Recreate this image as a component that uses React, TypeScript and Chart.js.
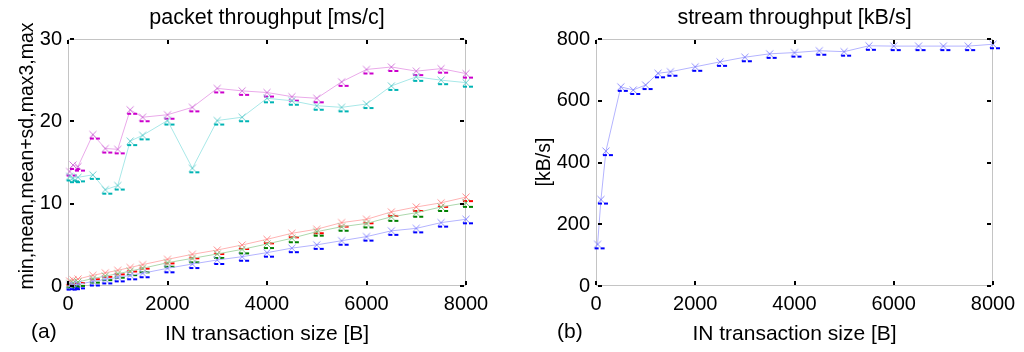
import React, { useEffect, useRef } from "react";
import { Chart, registerables } from "chart.js";

Chart.register(...registerables);

// ---------- data ----------
const X_VALUES = [32, 100, 200, 500, 750, 1000, 1250, 1500, 2000, 2500, 3000, 3500, 4000, 4500, 5000, 5500, 6000, 6500, 7000, 7500, 8000];
const PACKET_MAX = [13.9, 14.7, 14.5, 18.4, 16.7, 16.6, 21.4, 20.5, 20.8, 21.7, 24.0, 23.7, 23.5, 23.0, 22.8, 24.8, 26.3, 26.6, 26.1, 26.4, 25.8];
const PACKET_MAX3 = [13.3, 13.1, 13.2, 13.5, 11.7, 12.2, 17.6, 18.3, 20.1, 14.3, 20.1, 20.5, 22.8, 22.5, 21.9, 21.7, 22.1, 24.3, 25.4, 25.0, 24.7];
const PACKET_MEAN_SD = [0.6, 0.75, 0.85, 1.3, 1.6, 1.9, 2.25, 2.6, 3.24, 3.85, 4.37, 4.98, 5.67, 6.4, 6.9, 7.7, 8.1, 9.0, 9.6, 10.1, 10.8];
const PACKET_MEAN = [0.3, 0.4, 0.5, 0.9, 1.2, 1.5, 1.8, 2.15, 2.83, 3.36, 3.89, 4.45, 5.1, 5.8, 6.6, 7.2, 7.6, 8.4, 8.9, 9.6, 10.1];
const PACKET_MIN = [0.05, 0.1, 0.2, 0.55, 0.8, 1.05, 1.3, 1.55, 2.15, 2.67, 3.16, 3.56, 4.05, 4.6, 5.0, 5.5, 6.0, 6.7, 7.0, 7.7, 8.1];
const STREAM = [135, 280, 437, 645, 635, 651, 689, 694, 710, 726, 741, 752, 756, 762, 759, 778, 777, 777, 777, 777, 783];

const X_TICKS = [0, 2000, 4000, 6000, 8000];
const PACKET_Y_TICKS = [0, 10, 20, 30];
const STREAM_Y_TICKS = [0, 200, 400, 600, 800];

const FONT = "'Liberation Sans', Arial, sans-serif";

function makeMarker(xColor: string, dashColor: string): HTMLCanvasElement {
  const c = document.createElement("canvas");
  c.width = 20;
  c.height = 20;
  const g = c.getContext("2d")!;
  g.strokeStyle = xColor;
  g.lineWidth = 1;
  g.beginPath();
  g.moveTo(10 - 3.5, 10 - 3.5);
  g.lineTo(10 + 3.5, 10 + 3.5);
  g.moveTo(10 + 3.5, 10 - 3.5);
  g.lineTo(10 - 3.5, 10 + 3.5);
  g.stroke();
  g.fillStyle = dashColor;
  g.fillRect(10 - 3, 10 + 3, 4, 2);
  g.fillRect(10 + 3, 10 + 3, 4, 2);
  return c;
}

function series(values: number[], line: string, xc: string, dash: string) {
  return {
    data: X_VALUES.map((x, i) => ({ x, y: values[i] })),
    borderColor: line,
    borderWidth: 1,
    pointStyle: makeMarker(xc, dash),
    pointRadius: 4,
    pointHoverRadius: 4,
    fill: false,
    tension: 0,
    clip: false as any,
  };
}

type TextOpts = {
  title: string;
  titleX: number;
  xTitle: string;
  yTitle: string;
  yTitleX: number;
  yTitleY: number;
  tag: string;
  tagX: number;
};

function framePlugin(t: TextOpts) {
  return {
    id: "frame",
    beforeDatasetsDraw(chart: any) {
      const { ctx, chartArea: a } = chart;
      ctx.save();
      ctx.strokeStyle = "#c4c4c4";
      ctx.lineWidth = 1;
      ctx.strokeRect(a.left + 0.5, a.top + 0.5, a.right - a.left - 1, a.bottom - a.top - 1);
      ctx.restore();
    },
    afterDatasetsDraw(chart: any) {
      const { ctx, chartArea: a, scales } = chart;
      ctx.save();
      ctx.fillStyle = "#000";
      for (const tk of scales.x.ticks) {
        const px = Math.round(scales.x.getPixelForValue(tk.value));
        ctx.fillRect(px - 1, a.top + 1, 2, 4);
        ctx.fillRect(px - 1, a.bottom - 5, 2, 4);
      }
      for (const tk of scales.y.ticks) {
        const py = Math.round(scales.y.getPixelForValue(tk.value));
        ctx.fillRect(a.left + 2, py - 1, 4, 2);
        ctx.fillRect(a.right - 6, py - 1, 4, 2);
      }
      ctx.restore();
    },
    afterDraw(chart: any) {
      const { ctx, chartArea: a } = chart;
      ctx.save();
      ctx.fillStyle = "#000";
      ctx.textBaseline = "alphabetic";
      ctx.textAlign = "center";
      ctx.font = `21.5px ${FONT}`;
      ctx.fillText(t.title, t.titleX, 24);
      ctx.font = `21px ${FONT}`;
      ctx.fillText(t.xTitle, (a.left + a.right) / 2, 340);
      ctx.textAlign = "left";
      ctx.fillText(t.tag, t.tagX, 338);
      ctx.translate(t.yTitleX, t.yTitleY);
      ctx.rotate(-Math.PI / 2);
      ctx.textAlign = "center";
      ctx.font = `19.5px ${FONT}`;
      ctx.fillText(t.yTitle, 0, 0);
      ctx.restore();
    },
  };
}

function makeOptions(yMin: number, yMax: number, yTicks: number[], yWidth: number, rightPad: number) {
  const tickFont = { family: FONT, size: 20 };
  return {
    animation: false as const,
    responsive: false,
    devicePixelRatio: 1,
    layout: { padding: { top: 39, right: rightPad, left: 0, bottom: 0 } },
    plugins: { legend: { display: false }, tooltip: { enabled: false }, title: { display: false } },
    scales: {
      x: {
        type: "linear" as const,
        min: 0,
        max: 8000,
        grid: { display: false, drawTicks: false },
        border: { display: false },
        ticks: {
          font: tickFont,
          color: "#000",
          padding: 6,
          maxRotation: 0,
          autoSkip: false,
          callback: (v: any) => String(v),
        },
        afterBuildTicks: (s: any) => {
          s.ticks = X_TICKS.map((v) => ({ value: v }));
        },
        afterFit: (s: any) => {
          s.height = 66;
        },
      },
      y: {
        type: "linear" as const,
        min: yMin,
        max: yMax,
        grid: { display: false, drawTicks: false },
        border: { display: false },
        ticks: { font: tickFont, color: "#000", padding: 6, autoSkip: false, callback: (v: any) => String(v) },
        afterBuildTicks: (s: any) => {
          s.ticks = yTicks.map((v) => ({ value: v }));
        },
        afterFit: (s: any) => {
          s.width = yWidth;
        },
      },
    },
  };
}

export default function App() {
  const leftRef = useRef<HTMLCanvasElement>(null);
  const rightRef = useRef<HTMLCanvasElement>(null);

  useEffect(() => {
    const left = new Chart(leftRef.current!, {
      type: "line",
      data: {
        datasets: [
          series(PACKET_MIN, "#b4b4ff", "#8c8cff", "#0000ff"),
          series(PACKET_MEAN, "#acd8ac", "#80c080", "#008000"),
          series(PACKET_MEAN_SD, "#ffb4b4", "#ff8c8c", "#ff0000"),
          series(PACKET_MAX3, "#a8e8e8", "#6cd0d0", "#00b4b4"),
          series(PACKET_MAX, "#eaaaea", "#d47cdc", "#cc00cc"),
        ] as any,
      },
      options: makeOptions(0, 30, PACKET_Y_TICKS, 68, 46) as any,
      plugins: [
        framePlugin({
          title: "packet throughput [ms/c]",
          titleX: 267,
          xTitle: "IN transaction size [B]",
          yTitle: "min,mean,mean+sd,max3,max",
          yTitleX: 33,
          yTitleY: 156,
          tag: "(a)",
          tagX: 31,
        }),
      ],
    });
    const right = new Chart(rightRef.current!, {
      type: "line",
      data: {
        datasets: [series(STREAM, "#b4b4ff", "#8c8cff", "#0000ff")] as any,
      },
      options: makeOptions(0, 800, STREAM_Y_TICKS, 84, 31) as any,
      plugins: [
        framePlugin({
          title: "stream throughput [kB/s]",
          titleX: 282.5,
          xTitle: "IN transaction size [B]",
          yTitle: "[kB/s]",
          yTitleX: 38,
          yTitleY: 162,
          tag: "(b)",
          tagX: 45,
        }),
      ],
    });
    return () => {
      left.destroy();
      right.destroy();
    };
  }, []);

  return (
    <div style={{ position: "fixed", left: 0, top: 0, width: 1024, height: 352, background: "#fff" }}>
      <canvas ref={leftRef} width={512} height={352} style={{ position: "absolute", left: 0, top: 0, width: 512, height: 352 }} />
      <canvas ref={rightRef} width={512} height={352} style={{ position: "absolute", left: 512, top: 0, width: 512, height: 352 }} />
    </div>
  );
}
